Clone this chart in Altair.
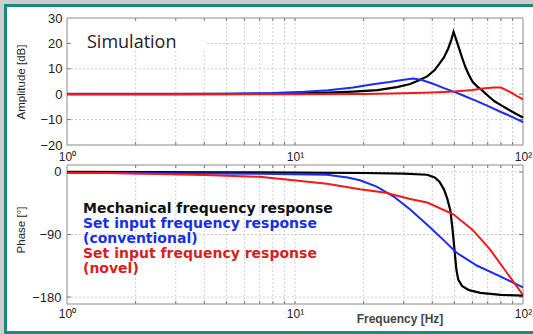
import altair as alt
import pandas as pd

# ---------------- values (frequency in Hz) ----------------
mech_amp_f = [1, 3, 6, 10, 14, 18, 23, 28, 32, 35, 38, 41, 43, 45, 47, 48.5, 49.6, 50.5, 52, 54, 56, 58, 60, 63, 66, 70, 75, 80, 87, 93, 100]
mech_amp_db = [0, 0, 0.1, 0.3, 0.6, 1.0, 1.6, 2.8, 4.0, 5.5, 7.0, 9.5, 12.0, 14.5, 18.0, 21.5, 24.5, 22.5, 19.0, 14.5, 10.5, 7.5, 5.0, 3.0, 1.6, -0.5, -2.8, -4.3, -6.2, -7.7, -9.2]

conv_amp_f = [1, 5, 8, 11, 14, 18, 22, 26, 30, 33, 36, 40, 45, 50, 55, 62, 70, 80, 90, 100]
conv_amp_db = [0.2, 0.2, 0.5, 1.0, 1.6, 2.6, 3.9, 4.8, 5.7, 6.2, 5.6, 4.2, 2.4, 0.9, -0.6, -2.5, -4.6, -7.0, -9.0, -11.0]

novel_amp_f = [1, 10, 20, 30, 40, 50, 60, 68, 75, 80, 85, 90, 95, 100]
novel_amp_db = [0, 0, 0.1, 0.4, 0.7, 1.1, 1.7, 2.3, 2.6, 2.6, 1.5, 0.3, -1.0, -2.0]

mech_ph_f = [1, 5, 10, 20, 30, 38, 41, 43, 45, 46.5, 48, 49, 50, 51, 52, 54, 58, 65, 80, 100]
mech_ph_deg = [0, -0.5, -1, -1.5, -2.5, -4, -8, -14, -25, -38, -55, -80, -110, -140, -155, -164, -170, -174, -177, -178]

conv_ph_f = [1, 2.5, 7, 13.8, 17, 19.3, 22.8, 27, 32, 38, 44.5, 51, 63, 79, 100]
conv_ph_deg = [-1, -2, -2.5, -4, -8, -12, -21, -35, -54, -76, -97, -116, -135, -150, -166]

novel_ph_f = [1, 1.5, 2.5, 4, 7, 13.8, 19.3, 25, 32, 38, 49.5, 60, 71.5, 85, 100]
novel_ph_deg = [-1, -1.5, -3, -4.5, -7, -17, -25, -30, -39, -44, -61, -83, -111, -145, -177]

amp_ticks = [-20, -10, 0, 10, 20, 30]
amp_hgrid = [-10, 0, 10, 20]
phase_ticks = [0, -90, -180]
phase_hgrid = [0, -90, -180]
freq_ticks = [1, 10, 100]
freq_grid = [2, 3, 4, 5, 6, 7, 8, 9, 10, 20, 30, 40, 50, 60, 70, 80, 90]
freq_domain = [1, 100]
amp_domain = [-20, 30]
phase_domain = [-190, 10]

legend_lines = ["Mechanical frequency response", "Set input frequency response",
                "(conventional)", "Set input frequency response", "(novel)"]
legend_colors = ["#111111", "#1a2ee6", "#1a2ee6", "#d81e1e", "#d81e1e"]

BLACK = "#000000"
BLUE = "#1a2cf5"
RED = "#f51818"
LAB = "Liberation Sans"

X_RANGE = [67, 523]
LABEL_EXPR = "'10' + (datum.value < 5 ? '\u2070' : (datum.value < 50 ? '\u00b9' : '\u00b2'))"


def x_enc(offset, pad):
    return alt.X("f:Q",
                 scale=alt.Scale(type="log", domain=freq_domain, range=X_RANGE, nice=False),
                 axis=alt.Axis(values=freq_ticks, labelExpr=LABEL_EXPR, orient="bottom",
                               offset=offset, grid=False, ticks=False, domain=False,
                               title=None, labelFont=LAB, labelFontSize=12, labelColor="#222222",
                               labelPadding=pad, labelFlush=False, labelOverlap=False, zindex=2))


def y_enc(dom, rng, ticks, pad):
    return alt.Y("v:Q",
                 scale=alt.Scale(domain=dom, range=rng, nice=False, zero=False),
                 axis=alt.Axis(values=ticks, orient="left", offset=-67, grid=False,
                               ticks=False, domain=False, title=None, labelFont=LAB,
                               labelFontSize=13, labelColor="#222222", labelPadding=pad,
                               labelOverlap=False, zindex=2))


def panel(curves, dom, rng, yticks, hgrid, xoff, xpad, ypad, tick_units, extra=None):
    xe = x_enc(xoff, xpad)
    ye = y_enc(dom, rng, yticks, ypad)
    lo, hi = dom
    grid_style = dict(color="#cfcfcf", strokeDash=[2, 2], strokeWidth=1)
    layers = []
    layers.append(alt.Chart(pd.DataFrame({"f": freq_grid, "v": lo, "v2": hi}))
                  .mark_rule(**grid_style).encode(x=xe, y=ye, y2="v2"))
    layers.append(alt.Chart(pd.DataFrame({"f": freq_domain[0], "f2": freq_domain[1], "v": hgrid}))
                  .mark_rule(**grid_style).encode(x=xe, x2="f2", y=ye))
    if extra is not None:
        layers.extend(extra)
    tick_style = dict(color="#777777", strokeWidth=1)
    inner_y = [t for t in yticks if lo < t < hi]
    layers.append(alt.Chart(pd.DataFrame({"f": 1, "f2": 1.04, "v": inner_y}))
                  .mark_rule(**tick_style).encode(x=xe, x2="f2", y=ye))
    layers.append(alt.Chart(pd.DataFrame({"f": 96.2, "f2": 100, "v": inner_y}))
                  .mark_rule(**tick_style).encode(x=xe, x2="f2", y=ye))
    layers.append(alt.Chart(pd.DataFrame({"f": freq_grid, "v": lo, "v2": lo + tick_units}))
                  .mark_rule(**tick_style).encode(x=xe, y=ye, y2="v2"))
    layers.append(alt.Chart(pd.DataFrame({"f": freq_grid, "v": hi - tick_units, "v2": hi}))
                  .mark_rule(**tick_style).encode(x=xe, y=ye, y2="v2"))
    layers.append(alt.Chart(pd.DataFrame({"f": [freq_domain[0]], "f2": [freq_domain[1]], "v": [lo], "v2": [hi]}))
                  .mark_rect(fillOpacity=0, stroke="#8a8a8a", strokeWidth=1)
                  .encode(x=xe, x2="f2", y=ye, y2="v2"))
    for f, v, color, w in curves:
        layers.append(alt.Chart(pd.DataFrame({"f": f, "v": v}))
                      .mark_line(color=color, strokeWidth=w).encode(x=xe, y=ye))
    return alt.layer(*layers)


def deco_rect(x, x2, y, y2, color):
    return alt.Chart(pd.DataFrame({"k": [0]})).mark_rect(color=color).encode(
        x=alt.value(x), x2=alt.value(x2), y=alt.value(y), y2=alt.value(y2))


def label(text, x, y, **kw):
    return alt.Chart(pd.DataFrame({"t": [text]})).mark_text(**kw).encode(
        text="t:N", x=alt.value(x), y=alt.value(y))


sim_box = deco_rect(68, 207, 19, 50, "white")

top = panel(
    [(mech_amp_f, mech_amp_db, BLACK, 2.2),
     (conv_amp_f, conv_amp_db, BLUE, 2),
     (novel_amp_f, novel_amp_db, RED, 2)],
    amp_domain, [145, 18], amp_ticks, amp_hgrid,
    xoff=145 - 334, xpad=6, ypad=5, tick_units=1.2, extra=[sim_box])

bottom = panel(
    [(mech_ph_f, mech_ph_deg, BLACK, 2.2),
     (conv_ph_f, conv_ph_deg, BLUE, 2),
     (novel_ph_f, novel_ph_deg, RED, 2)],
    phase_domain, [304, 165], phase_ticks, phase_hgrid,
    xoff=304 - 334, xpad=4, ypad=6, tick_units=4.3)

frame = [deco_rect(4, 533, 4, 334, "#188a85"), deco_rect(7, 533, 7, 331, "white")]

texts = [
    label("Simulation", 87, 43, font="Open Sans", fontSize=18, color="#222222", align="left"),
    label("Amplitude [dB]", 22, 82, font=LAB, fontSize=11.5, color="#222222", angle=270,
          align="center", baseline="middle"),
    label("Phase [°]", 22, 230, font=LAB, fontSize=11.5, color="#222222", angle=270,
          align="center", baseline="middle"),
    label("Frequency [Hz]", 400, 319, font=LAB, fontSize=12, fontWeight="bold", color="#444444",
          align="center", baseline="middle"),
]
for i, (line, col) in enumerate(zip(legend_lines, legend_colors)):
    texts.append(label(line, 83, 213 + 15 * i, font="DejaVu Sans", fontSize=14, fontWeight="bold",
                       color=col, align="left", baseline="alphabetic"))

chart = alt.layer(*frame, top, bottom, *texts).resolve_scale(
    x="independent", y="independent"
).properties(
    width=533, height=334, autosize=alt.AutoSizeParams(type="none"),
    padding=0, background="#cdcdcd"
).configure_view(stroke=None)

chart.save("out.html", embed_options={"renderer": "svg", "actions": False})
